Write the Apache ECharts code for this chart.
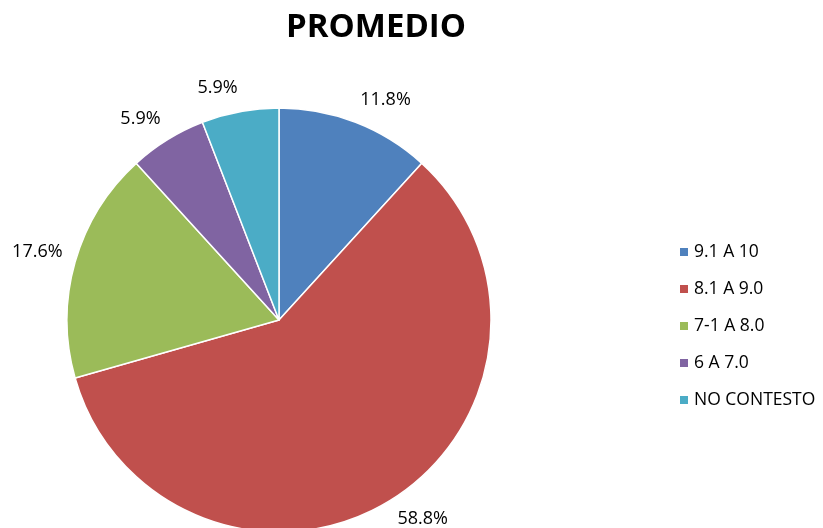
<!DOCTYPE html>
<html><head><meta charset="utf-8">
<script src="https://cdn.jsdelivr.net/npm/echarts@6/dist/echarts.min.js"></script>
<style>html,body{margin:0;padding:0;background:#fff}#c{width:823px;height:528px}</style>
</head><body><div id="c"></div>
<script>
const categories = ['9.1 A 10', '8.1 A 9.0', '7-1 A 8.0', '6 A 7.0', 'NO CONTESTO'];
const values = [2, 10, 3, 1, 1];
const colors = ['#4F81BD', '#C0504D', '#9BBB59', '#8064A2', '#4BACC6'];
const title = 'PROMEDIO';

const FONT = 'Open Sans';
const LFS = 18;
const chart = echarts.init(document.getElementById('c'), null, {renderer: 'canvas'});
// mid-angle of each slice decides how far the label is pushed above / below its anchor
const total = values.reduce((a, b) => a + b, 0);
let acc = 0;
const midCos = values.map(v => {
  const mid = (acc + v / 2) / total * 2 * Math.PI; acc += v;
  return Math.cos(mid); // >0 upper half, <0 lower half
});
const data = categories.map((n, i) => ({name: n, value: values[i], itemStyle: {color: colors[i]}}));
chart.setOption({
  animation: false,
  title: {text: title, left: 371, top: 6, textAlign: 'center',
    textStyle: {fontFamily: FONT, fontWeight: 'bold', fontSize: 33, color: '#000'}},
  legend: {orient: 'vertical', left: 673, top: 238, icon: 'rect', itemWidth: 10, itemHeight: 10,
    itemGap: 19, data: categories, selectedMode: false,
    textStyle: {fontFamily: FONT, fontSize: 17.5, color: '#000', lineHeight: 18}},
  series: [
    {type: 'pie', center: [279, 320], radius: [0, 212], startAngle: 90, clockwise: true,
      data: data,
      label: {show: true, position: 'outside',
        formatter: p => {
          const t = '{v|' + p.percent.toFixed(1) + '%}';
          const c = midCos[p.dataIndex];
          const sp = Math.round((c > 0 ? 10 : 6) + 12 * Math.abs(c));
          const spacer = '{s' + sp + '| }';
          return c < 0 ? spacer + '\n' + t : t + '\n' + spacer;
        },
        rich: Object.assign(
          {v: {fontFamily: FONT, fontSize: LFS, lineHeight: LFS, color: '#000'}},
          Object.fromEntries(Array.from({length: 30}, (_, k) => ['s' + k, {fontSize: 2, lineHeight: k}]))
        ),
        fontFamily: FONT, fontSize: LFS, color: '#000', distanceToLabelLine: 0},
      labelLine: {show: false, length: 13, length2: 0},
      avoidLabelOverlap: false,
      itemStyle: {borderColor: '#fff', borderWidth: 1.5}, emphasis: {disabled: true}}
  ]
});
</script></body></html>
